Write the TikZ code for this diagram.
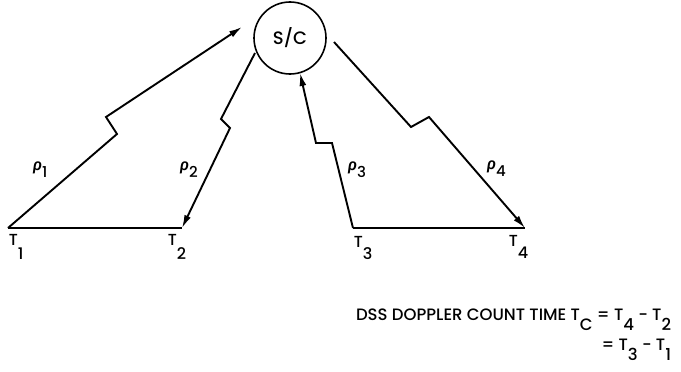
\documentclass[tikz,border=0pt]{standalone}
\usepackage{fontspec}
\setmainfont{Poppins Medium}
\newfontfamily\gkfont{Fira Sans Medium}
\usetikzlibrary{arrows.meta}
\newcommand\lsub[2]{\raisebox{-#1}{#2}}
\newcommand\rholbl[1]{{\gkfont\itshape\fontsize{16}{16}\selectfont ρ}\lsub{7pt}{\fontsize{15}{15}\selectfont #1}}
\begin{document}
\begin{tikzpicture}[x=1pt,y=-1pt,line width=1.9pt,
  arr/.style={-{Latex[length=13pt,width=7pt]}},
  tlbl/.style={inner sep=0pt,anchor=base west,font=\fontsize{16}{16}\selectfont},
  rlbl/.style={inner sep=0pt,anchor=base west},
  eqlbl/.style={inner sep=0pt,anchor=base east,font=\fontsize{16.5}{16.5}\selectfont}]
\useasboundingbox (0,0) rectangle (681,372);
\node[circle,draw,line width=1.6pt,minimum size=72pt,inner sep=0pt,font=\fontsize{18}{18}\selectfont] (sc) at (290,38) {S/C};
% ground points
\coordinate (t1) at (8,228);
\coordinate (t2) at (182,228);
\coordinate (t3) at (353,228);
\coordinate (t4) at (525,228);
% path 1
\coordinate (p1a) at (117,134);
\coordinate (p1b) at (106,117);
\coordinate (p1tip) at (242,27);
% path 2
\coordinate (p2s) at (255,53);
\coordinate (p2a) at (221,119);
\coordinate (p2b) at (230,128);
% path 3
\coordinate (p3a) at (332,143);
\coordinate (p3b) at (316,143);
\coordinate (p3tip) at (300,73);
% path 4
\coordinate (p4s) at (334,42);
\coordinate (p4a) at (411,127);
\coordinate (p4b) at (429,117);
\draw[arr] (t1) -- (p1a) -- (p1b) -- (p1tip);
\draw[arr] (p2s) -- (p2a) -- (p2b) -- (t2);
\draw[arr] (t3) -- (p3a) -- (p3b) -- (p3tip);
\draw[arr] (p4s) -- (p4a) -- (p4b) -- (t4);
\draw (t1) -- (t2);
\draw (t3) -- (t4);
% labels
\node[tlbl] (lt1) at (8,245) {T\lsub{14pt}{1}};
\node[tlbl] (lt2) at (167,245) {T\lsub{14pt}{2}};
\node[tlbl] (lt3) at (353,247) {T\lsub{12pt}{3}};
\node[tlbl] (lt4) at (508,246) {T\lsub{12pt}{4}};
\node[rlbl] (r1) at (32,170) {\rholbl{1}};
\node[rlbl] (r2) at (179,170) {\rholbl{2}};
\node[rlbl] (r3) at (347,170) {\rholbl{3}};
\node[rlbl] (r4) at (486,169) {\rholbl{4}};
\node[eqlbl] (eq1) at (672,320) {DSS DOPPLER COUNT TIME T\lsub{10pt}{C} = T\lsub{10pt}{4} - T\lsub{10pt}{2}};
\node[eqlbl] (eq2) at (672,350) {= T\lsub{10pt}{3} - T\lsub{10pt}{1}};
\end{tikzpicture}
\end{document}
